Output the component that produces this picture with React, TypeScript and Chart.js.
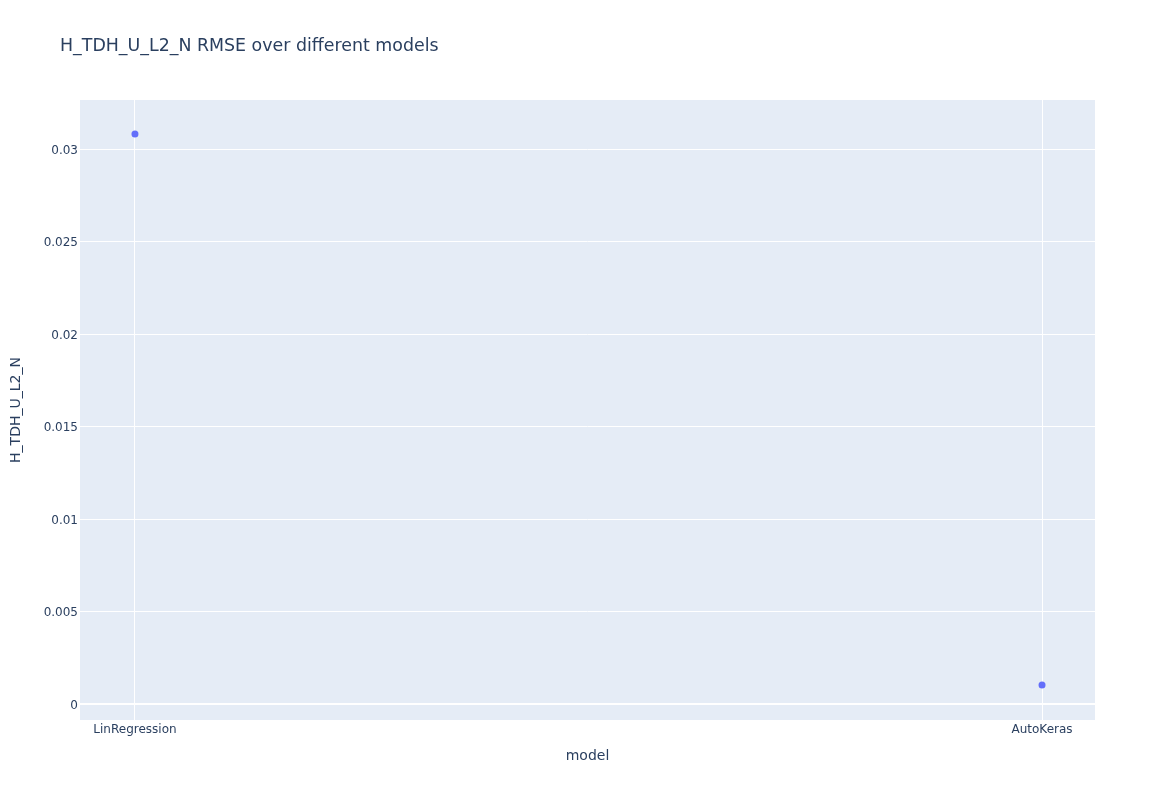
import React, { useEffect, useRef } from "react";
import { Chart, registerables } from "chart.js";

Chart.register(...registerables);

const categories = ["LinRegression", "AutoKeras"];
const rmseValues = [0.03081, 0.00103];
const yTicks = [0, 0.005, 0.01, 0.015, 0.02, 0.025, 0.03];
const titleText = "H_TDH_U_L2_N RMSE over different models";
const xTitle = "model";
const yTitle = "H_TDH_U_L2_N";

const FONT = '"DejaVu Sans", verdana, sans-serif';
const TEXT = "#2a3f5f";

export default function App() {
  const ref = useRef<HTMLCanvasElement | null>(null);
  useEffect(() => {
    if (!ref.current) return;
    const bgPlugin = {
      id: "plotBg",
      beforeDraw(chart: any) {
        const { ctx, chartArea } = chart;
        ctx.save();
        ctx.fillStyle = "#E5ECF6";
        ctx.fillRect(chartArea.left, chartArea.top, chartArea.right - chartArea.left, chartArea.bottom - chartArea.top);
        ctx.restore();
      },
      afterDraw(chart: any) {
        const { ctx, chartArea } = chart;
        ctx.save();
        ctx.fillStyle = TEXT;
        ctx.font = `17.4px ${FONT}`;
        ctx.textAlign = "left";
        ctx.textBaseline = "middle";
        ctx.fillText(titleText, 60, 46);
        ctx.font = `14px ${FONT}`;
        ctx.textAlign = "center";
        ctx.fillText(xTitle, (chartArea.left + chartArea.right) / 2, 756);
        ctx.translate(16, (chartArea.top + chartArea.bottom) / 2);
        ctx.rotate(-Math.PI / 2);
        ctx.fillText(yTitle, 0, 0);
        ctx.restore();
      },
    };
    const chart = new Chart(ref.current, {
      type: "scatter",
      data: {
        datasets: [
          {
            data: categories.map((c, i) => ({ x: i, y: rmseValues[i] })),
            backgroundColor: "#636efa",
            borderWidth: 0,
            pointRadius: 3.5,
          },
        ],
      },
      options: {
        animation: false,
        responsive: false,
        layout: { padding: { left: 0, top: 100, right: 80, bottom: 0 } },
        plugins: { legend: { display: false }, tooltip: { enabled: false }, title: { display: false } },
        scales: {
          x: {
            type: "linear",
            min: -0.0606,
            max: 1.0584,
            border: { display: false },
            grid: { color: "#ffffff", lineWidth: 1, drawTicks: false },
            afterBuildTicks(scale: any) {
              scale.ticks = categories.map((_, i) => ({ value: i }));
            },
            afterFit(scale: any) {
              scale.height = 80;
            },
            ticks: {
              padding: 3,
              color: TEXT,
              font: { family: FONT, size: 12 },
              callback: (v: any) => categories[Number(v)] ?? "",
            },
          },
          y: {
            min: -0.000865,
            max: 0.03265,
            border: { display: false },
            grid: {
              color: "#ffffff",
              drawTicks: false,
              lineWidth: (c: any) => (c.tick && c.tick.value === 0 ? 2 : 1),
            },
            afterBuildTicks(scale: any) {
              scale.ticks = yTicks.map((v) => ({ value: v }));
            },
            afterFit(scale: any) {
              scale.width = 80;
            },
            ticks: {
              padding: 2,
              labelOffset: 1.5,
              color: TEXT,
              font: { family: FONT, size: 12 },
              callback: (v: any) => String(Number(Number(v).toPrecision(6))),
            },
          },
        },
      },
      plugins: [bgPlugin],
    } as any);
    return () => chart.destroy();
  }, []);
  return (
    <div style={{ position: "absolute", left: 0, top: 0, width: 1175, height: 800, background: "#fff" }}>
      <canvas ref={ref} width={1175} height={800} style={{ width: 1175, height: 800, display: "block" }} />
    </div>
  );
}
